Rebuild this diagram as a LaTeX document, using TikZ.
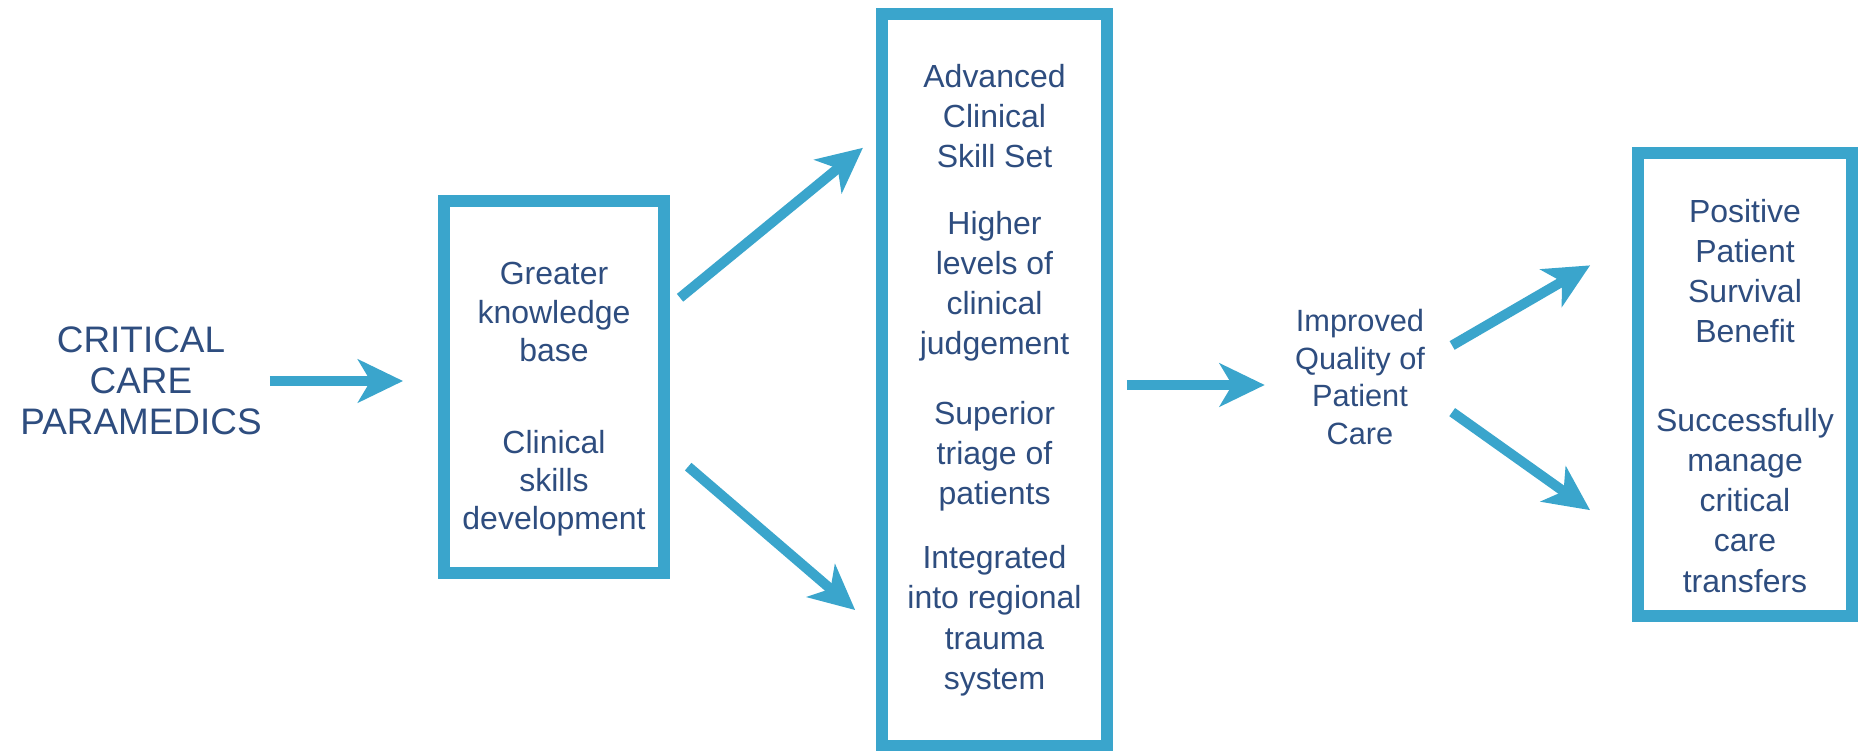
\documentclass[tikz,border=0pt]{standalone}
\usepackage{fontspec}
\setmainfont{Liberation Sans}
\usetikzlibrary{arrows.meta, positioning}

\definecolor{ccblue}{HTML}{3AA5CC}
\definecolor{cctext}{HTML}{2E4D7F}

\tikzset{
	box/.style={draw=ccblue, line width=0.24cm, align=center, text=cctext, inner sep=0pt},
	freetext/.style={align=center, text=cctext, inner sep=0pt},
	flow/.style={draw=ccblue, line width=0.2cm, -{Stealth[length=0.9cm, width=0.86cm, inset=0.25cm]}}
}

\begin{document}
\begin{tikzpicture}[x=0.02cm, y=-0.02cm]
	
	\fill[white] (0,0) rectangle (1861,750);
	\useasboundingbox (0,0) rectangle (1861,750);
	
	\node[freetext, font=\fontsize{21}{23.5}\selectfont]		(crit)	at (141,381)	{CRITICAL\\CARE\\PARAMEDICS};
	\node[box, minimum width=4.4cm, minimum height=7.46cm, font=\fontsize{18.2}{21.9}\selectfont]	(kb)	at (554,387)	{\rule{0pt}{27pt}Greater\\knowledge\\base\\[30pt]Clinical\\skills\\development};
	\node[box, minimum width=4.5cm, minimum height=14.64cm, font=\fontsize{18.2}{22.8}\selectfont]	(pv)	at (994.5,380)	{Advanced\\Clinical\\Skill Set\\[15pt]Higher\\levels of\\clinical\\judgement\\[17pt]Superior\\triage of\\patients\\[14pt]Integrated\\into regional\\trauma\\system};
	\node[freetext, font=\fontsize{17.5}{21.5}\selectfont]	(iq)	at (1360,377)	{Improved\\Quality of\\Patient\\Care};
	\node[box, minimum width=4.28cm, minimum height=9.26cm, font=\fontsize{18.2}{22.8}\selectfont]	(ps)	at (1745,384.5)	{\rule{0pt}{26pt}Positive\\Patient\\Survival\\Benefit\\[28pt]Successfully\\manage\\critical\\care\\transfers};
	
	\draw[flow, shorten <=0.16cm, shorten >=0.7cm]		(crit.east)		-- (crit.east -| kb.west);
	\draw[flow, shorten <=0.26cm, shorten >=0.34cm]	([yshift=1.62cm]kb.east)	-- ([yshift=4.86cm]pv.west);
	\draw[flow, shorten <=0.48cm, shorten >=0.55cm]	([yshift=-1.28cm]kb.east)	-- ([yshift=-4.96cm]pv.west);
	\draw[flow, shorten <=0.28cm, shorten >=0.6cm]		([yshift=-0.1cm]pv.east)	-- ([yshift=-0.1cm]pv.east -| iq.west);
	\draw[flow, shorten <=0.62cm, shorten >=0.97cm]	([yshift=0.32cm]iq.east)	-- ([yshift=2.87cm]ps.west);
	\draw[flow, shorten <=0.66cm, shorten >=1.03cm]	([yshift=-0.32cm]iq.east)	-- ([yshift=-3.11cm]ps.west);
	\end{tikzpicture}
\end{document}
